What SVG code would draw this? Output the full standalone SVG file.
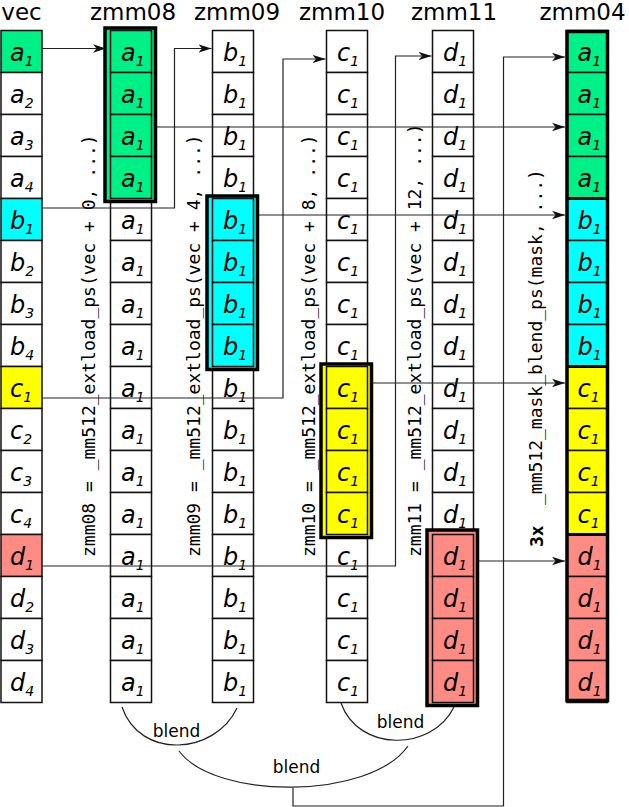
<svg xmlns="http://www.w3.org/2000/svg" width="629" height="807" viewBox="0 0 629 807">
<style>
.c{stroke:#111;stroke-width:1.5;fill:#fff}
.g{fill:#00f088}.b{fill:#00ffff}.y{fill:#ffff00}.r{fill:#ff8c84}
.t{font-family:"DejaVu Sans",sans-serif;font-style:italic;font-size:24px;fill:#000}
.s{font-size:14px}
.h{font-family:"DejaVu Sans",sans-serif;font-size:23px;text-anchor:middle;fill:#000}
.m{font-family:"DejaVu Sans Mono",monospace;font-size:18px;fill:#000}
.mb{font-family:"DejaVu Sans Mono",monospace;font-size:18px;font-weight:bold;fill:#000}
.bl{font-family:"DejaVu Sans",sans-serif;font-size:17px;text-anchor:middle;fill:#000}
.box{stroke:#000;stroke-width:3.5}
.ln{fill:none;stroke:#222;stroke-width:1.2}
.ar{marker-end:url(#ah)}
.sep{stroke:#000;stroke-width:3}
</style>
<defs>
<marker id="ah" markerWidth="14" markerHeight="10" refX="13" refY="5" orient="auto" markerUnits="userSpaceOnUse"><path d="M0,0.8 L13,5 L0,9.2 L3.5,5 Z" fill="#111"/></marker>
</defs>

<g id="vec">
<text class="h" x="21.5" y="20">vec</text>
<rect class="c g" x="1" y="30.5" width="41" height="42"/><text class="t" x="10" y="61">a<tspan class="s" dy="5">1</tspan></text>
<rect class="c" x="1" y="72.5" width="41" height="42"/><text class="t" x="10" y="103">a<tspan class="s" dy="5">2</tspan></text>
<rect class="c" x="1" y="114.5" width="41" height="42"/><text class="t" x="10" y="145">a<tspan class="s" dy="5">3</tspan></text>
<rect class="c" x="1" y="156.5" width="41" height="42"/><text class="t" x="10" y="187">a<tspan class="s" dy="5">4</tspan></text>
<rect class="c b" x="1" y="198.5" width="41" height="42"/><text class="t" x="10" y="229">b<tspan class="s" dy="5">1</tspan></text>
<rect class="c" x="1" y="240.5" width="41" height="42"/><text class="t" x="10" y="271">b<tspan class="s" dy="5">2</tspan></text>
<rect class="c" x="1" y="282.5" width="41" height="42"/><text class="t" x="10" y="313">b<tspan class="s" dy="5">3</tspan></text>
<rect class="c" x="1" y="324.5" width="41" height="42"/><text class="t" x="10" y="355">b<tspan class="s" dy="5">4</tspan></text>
<rect class="c y" x="1" y="366.5" width="41" height="42"/><text class="t" x="10" y="397">c<tspan class="s" dy="5">1</tspan></text>
<rect class="c" x="1" y="408.5" width="41" height="42"/><text class="t" x="10" y="439">c<tspan class="s" dy="5">2</tspan></text>
<rect class="c" x="1" y="450.5" width="41" height="42"/><text class="t" x="10" y="481">c<tspan class="s" dy="5">3</tspan></text>
<rect class="c" x="1" y="492.5" width="41" height="42"/><text class="t" x="10" y="523">c<tspan class="s" dy="5">4</tspan></text>
<rect class="c r" x="1" y="534.5" width="41" height="42"/><text class="t" x="10" y="565">d<tspan class="s" dy="5">1</tspan></text>
<rect class="c" x="1" y="576.5" width="41" height="42"/><text class="t" x="10" y="607">d<tspan class="s" dy="5">2</tspan></text>
<rect class="c" x="1" y="618.5" width="41" height="42"/><text class="t" x="10" y="649">d<tspan class="s" dy="5">3</tspan></text>
<rect class="c" x="1" y="660.5" width="41" height="42"/><text class="t" x="10" y="691">d<tspan class="s" dy="5">4</tspan></text>
</g>

<g id="zmm08">
<text class="h" x="133" y="20">zmm08</text>
<rect class="c" x="110.5" y="198.5" width="41" height="42"/><text class="t" x="121" y="229">a<tspan class="s" dy="5">1</tspan></text>
<rect class="c" x="110.5" y="240.5" width="41" height="42"/><text class="t" x="121" y="271">a<tspan class="s" dy="5">1</tspan></text>
<rect class="c" x="110.5" y="282.5" width="41" height="42"/><text class="t" x="121" y="313">a<tspan class="s" dy="5">1</tspan></text>
<rect class="c" x="110.5" y="324.5" width="41" height="42"/><text class="t" x="121" y="355">a<tspan class="s" dy="5">1</tspan></text>
<rect class="c" x="110.5" y="366.5" width="41" height="42"/><text class="t" x="121" y="397">a<tspan class="s" dy="5">1</tspan></text>
<rect class="c" x="110.5" y="408.5" width="41" height="42"/><text class="t" x="121" y="439">a<tspan class="s" dy="5">1</tspan></text>
<rect class="c" x="110.5" y="450.5" width="41" height="42"/><text class="t" x="121" y="481">a<tspan class="s" dy="5">1</tspan></text>
<rect class="c" x="110.5" y="492.5" width="41" height="42"/><text class="t" x="121" y="523">a<tspan class="s" dy="5">1</tspan></text>
<rect class="c" x="110.5" y="534.5" width="41" height="42"/><text class="t" x="121" y="565">a<tspan class="s" dy="5">1</tspan></text>
<rect class="c" x="110.5" y="576.5" width="41" height="42"/><text class="t" x="121" y="607">a<tspan class="s" dy="5">1</tspan></text>
<rect class="c" x="110.5" y="618.5" width="41" height="42"/><text class="t" x="121" y="649">a<tspan class="s" dy="5">1</tspan></text>
<rect class="c" x="110.5" y="660.5" width="41" height="42"/><text class="t" x="121" y="691">a<tspan class="s" dy="5">1</tspan></text>
<rect class="box g" x="105" y="28" width="50.5" height="173.5"/>
<rect class="c g" x="110.5" y="30.5" width="41" height="42"/><text class="t" x="121" y="61">a<tspan class="s" dy="5">1</tspan></text>
<rect class="c g" x="110.5" y="72.5" width="41" height="42"/><text class="t" x="121" y="103">a<tspan class="s" dy="5">1</tspan></text>
<rect class="c g" x="110.5" y="114.5" width="41" height="42"/><text class="t" x="121" y="145">a<tspan class="s" dy="5">1</tspan></text>
<rect class="c g" x="110.5" y="156.5" width="41" height="42"/><text class="t" x="121" y="187">a<tspan class="s" dy="5">1</tspan></text>
</g>

<g id="zmm09">
<text class="h" x="237" y="20">zmm09</text>
<rect class="c" x="212.5" y="30.5" width="41" height="42"/><text class="t" x="223" y="61">b<tspan class="s" dy="5">1</tspan></text>
<rect class="c" x="212.5" y="72.5" width="41" height="42"/><text class="t" x="223" y="103">b<tspan class="s" dy="5">1</tspan></text>
<rect class="c" x="212.5" y="114.5" width="41" height="42"/><text class="t" x="223" y="145">b<tspan class="s" dy="5">1</tspan></text>
<rect class="c" x="212.5" y="156.5" width="41" height="42"/><text class="t" x="223" y="187">b<tspan class="s" dy="5">1</tspan></text>
<rect class="c" x="212.5" y="366.5" width="41" height="42"/><text class="t" x="223" y="397">b<tspan class="s" dy="5">1</tspan></text>
<rect class="c" x="212.5" y="408.5" width="41" height="42"/><text class="t" x="223" y="439">b<tspan class="s" dy="5">1</tspan></text>
<rect class="c" x="212.5" y="450.5" width="41" height="42"/><text class="t" x="223" y="481">b<tspan class="s" dy="5">1</tspan></text>
<rect class="c" x="212.5" y="492.5" width="41" height="42"/><text class="t" x="223" y="523">b<tspan class="s" dy="5">1</tspan></text>
<rect class="c" x="212.5" y="534.5" width="41" height="42"/><text class="t" x="223" y="565">b<tspan class="s" dy="5">1</tspan></text>
<rect class="c" x="212.5" y="576.5" width="41" height="42"/><text class="t" x="223" y="607">b<tspan class="s" dy="5">1</tspan></text>
<rect class="c" x="212.5" y="618.5" width="41" height="42"/><text class="t" x="223" y="649">b<tspan class="s" dy="5">1</tspan></text>
<rect class="c" x="212.5" y="660.5" width="41" height="42"/><text class="t" x="223" y="691">b<tspan class="s" dy="5">1</tspan></text>
<rect class="box b" x="207" y="196" width="50.5" height="173.5"/>
<rect class="c b" x="212.5" y="198.5" width="41" height="42"/><text class="t" x="223" y="229">b<tspan class="s" dy="5">1</tspan></text>
<rect class="c b" x="212.5" y="240.5" width="41" height="42"/><text class="t" x="223" y="271">b<tspan class="s" dy="5">1</tspan></text>
<rect class="c b" x="212.5" y="282.5" width="41" height="42"/><text class="t" x="223" y="313">b<tspan class="s" dy="5">1</tspan></text>
<rect class="c b" x="212.5" y="324.5" width="41" height="42"/><text class="t" x="223" y="355">b<tspan class="s" dy="5">1</tspan></text>
</g>

<g id="zmm10">
<text class="h" x="342" y="20">zmm10</text>
<rect class="c" x="326.5" y="30.5" width="41" height="42"/><text class="t" x="337" y="61">c<tspan class="s" dy="5">1</tspan></text>
<rect class="c" x="326.5" y="72.5" width="41" height="42"/><text class="t" x="337" y="103">c<tspan class="s" dy="5">1</tspan></text>
<rect class="c" x="326.5" y="114.5" width="41" height="42"/><text class="t" x="337" y="145">c<tspan class="s" dy="5">1</tspan></text>
<rect class="c" x="326.5" y="156.5" width="41" height="42"/><text class="t" x="337" y="187">c<tspan class="s" dy="5">1</tspan></text>
<rect class="c" x="326.5" y="198.5" width="41" height="42"/><text class="t" x="337" y="229">c<tspan class="s" dy="5">1</tspan></text>
<rect class="c" x="326.5" y="240.5" width="41" height="42"/><text class="t" x="337" y="271">c<tspan class="s" dy="5">1</tspan></text>
<rect class="c" x="326.5" y="282.5" width="41" height="42"/><text class="t" x="337" y="313">c<tspan class="s" dy="5">1</tspan></text>
<rect class="c" x="326.5" y="324.5" width="41" height="42"/><text class="t" x="337" y="355">c<tspan class="s" dy="5">1</tspan></text>
<rect class="c" x="326.5" y="534.5" width="41" height="42"/><text class="t" x="337" y="565">c<tspan class="s" dy="5">1</tspan></text>
<rect class="c" x="326.5" y="576.5" width="41" height="42"/><text class="t" x="337" y="607">c<tspan class="s" dy="5">1</tspan></text>
<rect class="c" x="326.5" y="618.5" width="41" height="42"/><text class="t" x="337" y="649">c<tspan class="s" dy="5">1</tspan></text>
<rect class="c" x="326.5" y="660.5" width="41" height="42"/><text class="t" x="337" y="691">c<tspan class="s" dy="5">1</tspan></text>
<rect class="box y" x="321" y="364" width="50.5" height="173.5"/>
<rect class="c y" x="326.5" y="366.5" width="41" height="42"/><text class="t" x="337" y="397">c<tspan class="s" dy="5">1</tspan></text>
<rect class="c y" x="326.5" y="408.5" width="41" height="42"/><text class="t" x="337" y="439">c<tspan class="s" dy="5">1</tspan></text>
<rect class="c y" x="326.5" y="450.5" width="41" height="42"/><text class="t" x="337" y="481">c<tspan class="s" dy="5">1</tspan></text>
<rect class="c y" x="326.5" y="492.5" width="41" height="42"/><text class="t" x="337" y="523">c<tspan class="s" dy="5">1</tspan></text>
</g>

<g id="zmm11">
<text class="h" x="454" y="20">zmm11</text>
<rect class="c" x="432.5" y="30.5" width="41" height="42"/><text class="t" x="443" y="61">d<tspan class="s" dy="5">1</tspan></text>
<rect class="c" x="432.5" y="72.5" width="41" height="42"/><text class="t" x="443" y="103">d<tspan class="s" dy="5">1</tspan></text>
<rect class="c" x="432.5" y="114.5" width="41" height="42"/><text class="t" x="443" y="145">d<tspan class="s" dy="5">1</tspan></text>
<rect class="c" x="432.5" y="156.5" width="41" height="42"/><text class="t" x="443" y="187">d<tspan class="s" dy="5">1</tspan></text>
<rect class="c" x="432.5" y="198.5" width="41" height="42"/><text class="t" x="443" y="229">d<tspan class="s" dy="5">1</tspan></text>
<rect class="c" x="432.5" y="240.5" width="41" height="42"/><text class="t" x="443" y="271">d<tspan class="s" dy="5">1</tspan></text>
<rect class="c" x="432.5" y="282.5" width="41" height="42"/><text class="t" x="443" y="313">d<tspan class="s" dy="5">1</tspan></text>
<rect class="c" x="432.5" y="324.5" width="41" height="42"/><text class="t" x="443" y="355">d<tspan class="s" dy="5">1</tspan></text>
<rect class="c" x="432.5" y="366.5" width="41" height="42"/><text class="t" x="443" y="397">d<tspan class="s" dy="5">1</tspan></text>
<rect class="c" x="432.5" y="408.5" width="41" height="42"/><text class="t" x="443" y="439">d<tspan class="s" dy="5">1</tspan></text>
<rect class="c" x="432.5" y="450.5" width="41" height="42"/><text class="t" x="443" y="481">d<tspan class="s" dy="5">1</tspan></text>
<rect class="c" x="432.5" y="492.5" width="41" height="42"/><text class="t" x="443" y="523">d<tspan class="s" dy="5">1</tspan></text>
<rect class="box r" x="427" y="530" width="50.5" height="175.5"/>
<rect class="c r" x="432.5" y="534.5" width="41" height="42"/><text class="t" x="443" y="565">d<tspan class="s" dy="5">1</tspan></text>
<rect class="c r" x="432.5" y="576.5" width="41" height="42"/><text class="t" x="443" y="607">d<tspan class="s" dy="5">1</tspan></text>
<rect class="c r" x="432.5" y="618.5" width="41" height="42"/><text class="t" x="443" y="649">d<tspan class="s" dy="5">1</tspan></text>
<rect class="c r" x="432.5" y="660.5" width="41" height="42"/><text class="t" x="443" y="691">d<tspan class="s" dy="5">1</tspan></text>
</g>

<g id="zmm04">
<text class="h" x="582.5" y="20">zmm04</text>
<rect class="c g" x="567" y="30.5" width="40.5" height="42"/><text class="t" x="577.5" y="61">a<tspan class="s" dy="5">1</tspan></text>
<rect class="c g" x="567" y="72.5" width="40.5" height="42"/><text class="t" x="577.5" y="103">a<tspan class="s" dy="5">1</tspan></text>
<rect class="c g" x="567" y="114.5" width="40.5" height="42"/><text class="t" x="577.5" y="145">a<tspan class="s" dy="5">1</tspan></text>
<rect class="c g" x="567" y="156.5" width="40.5" height="42"/><text class="t" x="577.5" y="187">a<tspan class="s" dy="5">1</tspan></text>
<rect class="c b" x="567" y="198.5" width="40.5" height="42"/><text class="t" x="577.5" y="229">b<tspan class="s" dy="5">1</tspan></text>
<rect class="c b" x="567" y="240.5" width="40.5" height="42"/><text class="t" x="577.5" y="271">b<tspan class="s" dy="5">1</tspan></text>
<rect class="c b" x="567" y="282.5" width="40.5" height="42"/><text class="t" x="577.5" y="313">b<tspan class="s" dy="5">1</tspan></text>
<rect class="c b" x="567" y="324.5" width="40.5" height="42"/><text class="t" x="577.5" y="355">b<tspan class="s" dy="5">1</tspan></text>
<rect class="c y" x="567" y="366.5" width="40.5" height="42"/><text class="t" x="577.5" y="397">c<tspan class="s" dy="5">1</tspan></text>
<rect class="c y" x="567" y="408.5" width="40.5" height="42"/><text class="t" x="577.5" y="439">c<tspan class="s" dy="5">1</tspan></text>
<rect class="c y" x="567" y="450.5" width="40.5" height="42"/><text class="t" x="577.5" y="481">c<tspan class="s" dy="5">1</tspan></text>
<rect class="c y" x="567" y="492.5" width="40.5" height="42"/><text class="t" x="577.5" y="523">c<tspan class="s" dy="5">1</tspan></text>
<rect class="c r" x="567" y="534.5" width="40.5" height="42"/><text class="t" x="577.5" y="565">d<tspan class="s" dy="5">1</tspan></text>
<rect class="c r" x="567" y="576.5" width="40.5" height="42"/><text class="t" x="577.5" y="607">d<tspan class="s" dy="5">1</tspan></text>
<rect class="c r" x="567" y="618.5" width="40.5" height="42"/><text class="t" x="577.5" y="649">d<tspan class="s" dy="5">1</tspan></text>
<rect class="c r" x="567" y="660.5" width="40.5" height="42"/><text class="t" x="577.5" y="691">d<tspan class="s" dy="5">1</tspan></text>
<line class="sep" x1="567" y1="198.5" x2="607.5" y2="198.5"/>
<line class="sep" x1="567" y1="366.5" x2="607.5" y2="366.5"/>
<line class="sep" x1="567" y1="534.5" x2="607.5" y2="534.5"/>
<rect x="567" y="31.5" width="40.5" height="669" fill="none" stroke="#000" stroke-width="3.5"/>
</g>

<g id="labels">
<text class="m" transform="translate(94.5,557) rotate(-90)">zmm08 = _mm512_extload_ps(vec + 0, ...)</text>
<text class="m" transform="translate(200,557) rotate(-90)">zmm09 = _mm512_extload_ps(vec + 4, ...)</text>
<text class="m" transform="translate(315,557) rotate(-90)">zmm10 = _mm512_extload_ps(vec + 8, ...)</text>
<text class="m" transform="translate(421,557) rotate(-90)">zmm11 = _mm512_extload_ps(vec + 12, ...)</text>
<text class="mb" transform="translate(543,547) rotate(-90)">3x</text>
<text class="m" transform="translate(542,505) rotate(-90)">_mm512_mask_blend_ps(mask, ...)</text>
<text class="bl" x="176.5" y="737">blend</text>
<text class="bl" x="400.5" y="728">blend</text>
<text class="bl" x="296.5" y="773">blend</text>
</g>

<g id="connectors">
<path class="ln ar" d="M42,48.5 H106"/>
<path class="ln ar" d="M42,208 H174.5 V48.5 H211.5"/>
<path class="ln ar" d="M42,398 H283 V59 H325.5"/>
<path class="ln ar" d="M42,566 H395.5 V56 H431.5"/>
<path class="ln ar" d="M157,127 H565"/>
<path class="ln ar" d="M259,215 H565"/>
<path class="ln ar" d="M373,383 H565"/>
<path class="ln ar" d="M479,561 H565"/>
<path class="ln ar" d="M293,788 V806 H503.5 V57 H565"/>
<path class="ln" d="M122,707 C140,760 215,755 237,708"/>
<path class="ln" d="M341,703 C358,752 432,752 454,707"/>
<path class="ln" d="M179,751 C215,800 370,800 408,746"/>
</g>
</svg>
